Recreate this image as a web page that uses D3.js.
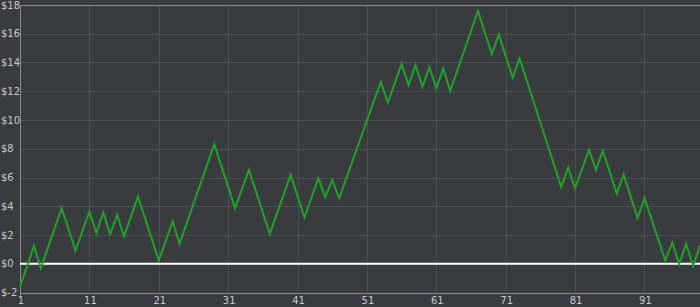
<!DOCTYPE html>
<html>
<head>
<meta charset="utf-8">
<script src="https://cdn.jsdelivr.net/npm/d3@7"></script>
<style>
  html, body { margin: 0; padding: 0; background: #393c3f; }
  svg { display: block; }
  .tick-label { font-family: "DejaVu Sans", Verdana, sans-serif; font-size: 10px; fill: #c8c8c8; }
</style>
</head>
<body>
<div class="container"></div>
<script>
const W = 700;
const H = 307;
const MARGIN = { top: 5, right: 0, bottom: 14, left: 20 };

// x categories (trial numbers) and the balance
const steps = d3.range(1, 100);
const balance = [
  -1.58, -0.2, 1.25, -0.3, 1.09, 2.48, 3.87, 2.4, 0.92, 2.28,
  3.63, 2.17, 3.56, 2.06, 3.4, 1.9, 3.3, 4.67, 3.19, 1.71,
  0.23, 1.58, 2.94, 1.39, 2.77, 4.16, 5.54, 6.93, 8.31, 6.83,
  5.35, 3.87, 5.2, 6.53, 5.05, 3.56, 2.08, 3.45, 4.81, 6.18,
  4.7, 3.22, 4.58, 5.95, 4.63, 5.83, 4.56, 5.91, 7.26, 8.61,
  9.96, 11.31, 12.66, 11.2, 12.55, 13.89, 12.43, 13.82, 12.31, 13.7,
  12.2, 13.59, 12.01, 13.41, 14.8, 16.2, 17.59, 16.09, 14.58, 15.95,
  14.45, 12.94, 14.28, 12.79, 11.3, 9.81, 8.31, 6.82, 5.33, 6.69,
  5.25, 6.58, 7.92, 6.53, 7.85, 6.38, 4.89, 6.2, 4.69, 3.17,
  4.56, 3.12, 1.67, 0.23, 1.48, -0.02, 1.39, -0.14, 1.25
];
const xTicks = [1, 11, 21, 31, 41, 51, 61, 71, 81, 91];
const yTicks = [-2, 0, 2, 4, 6, 8, 10, 12, 14, 16, 18];

const x = d3.scaleLinear()
  .domain([1, 99])
  .range([MARGIN.left, W - MARGIN.right]);

const y = d3.scaleLinear()
  .domain([-2, 18])
  .range([H - MARGIN.bottom - 0.5, MARGIN.top]);

const svg = d3.select(".container")
  .append("svg")
  .attr("width", W)
  .attr("height", H);

// grid
svg.append("g")
  .selectAll("line")
  .data(yTicks)
  .join("line")
  .attr("x1", MARGIN.left)
  .attr("x2", W)
  .attr("y1", d => Math.round(y(d)) + 0.5)
  .attr("y2", d => Math.round(y(d)) + 0.5)
  .attr("stroke", "#4b4e52")
  .attr("stroke-width", 1);

svg.append("g")
  .selectAll("line")
  .data(xTicks)
  .join("line")
  .attr("x1", d => Math.round(x(d)) + 0.5)
  .attr("x2", d => Math.round(x(d)) + 0.5)
  .attr("y1", y(18))
  .attr("y2", y(-2))
  .attr("stroke", "#4b4e52")
  .attr("stroke-width", 1);

// frame: top, left and bottom axis lines
const frame = svg.append("g").attr("stroke", "#8a8c8e").attr("stroke-width", 1);
frame.append("line")
  .attr("x1", MARGIN.left).attr("x2", W)
  .attr("y1", Math.round(y(18)) + 0.5).attr("y2", Math.round(y(18)) + 0.5);
frame.append("line")
  .attr("x1", MARGIN.left).attr("x2", W)
  .attr("y1", Math.round(y(-2)) + 0.5).attr("y2", Math.round(y(-2)) + 0.5);
frame.append("line")
  .attr("x1", MARGIN.left + 0.5).attr("x2", MARGIN.left + 0.5)
  .attr("y1", y(18)).attr("y2", y(-2) + 3);

// zero line
svg.append("line")
  .attr("x1", MARGIN.left)
  .attr("x2", W)
  .attr("y1", y(0))
  .attr("y2", y(0))
  .attr("stroke", "#ffffff")
  .attr("stroke-width", 2);

// balance line
const line = d3.line()
  .x((d, i) => x(steps[i]))
  .y(d => y(d));

svg.append("path")
  .datum(balance)
  .attr("fill", "none")
  .attr("stroke", "#22a02a")
  .attr("stroke-width", 2)
  .attr("stroke-linejoin", "miter")
  .attr("d", line);

// y tick labels
svg.append("g")
  .selectAll("text")
  .data(yTicks)
  .join("text")
  .attr("class", "tick-label")
  .attr("x", 1)
  .attr("y", d => y(d))
  .attr("dy", "0.35em")
  .text(d => "$" + d);

// x tick labels
svg.append("g")
  .selectAll("text")
  .data(xTicks)
  .join("text")
  .attr("class", "tick-label")
  .attr("x", d => x(d) + 1)
  .attr("y", H - 3)
  .attr("text-anchor", "middle")
  .text(d => d);
</script>
</body>
</html>
